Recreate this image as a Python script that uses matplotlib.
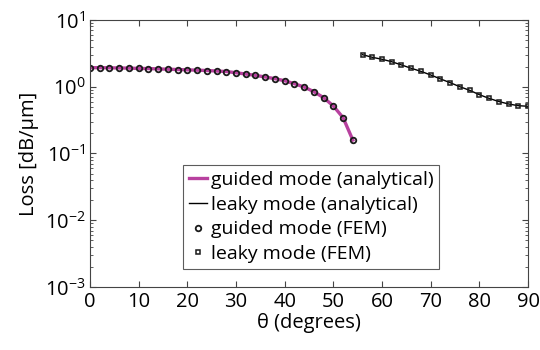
import numpy as np
import matplotlib.pyplot as plt

plt.rcParams['font.family'] = ['Open Sans', 'DejaVu Sans']
plt.rcParams['mathtext.fontset'] = 'custom'
plt.rcParams['mathtext.rm'] = 'Open Sans'
plt.rcParams['mathtext.it'] = 'Open Sans:italic'

# guided mode, every 2 degrees from 0 to 54
theta_g = np.arange(0, 55, 2)
loss_g = [1.93, 1.93, 1.92, 1.91, 1.90, 1.88, 1.87, 1.85, 1.83, 1.81,
          1.79, 1.77, 1.75, 1.72, 1.69, 1.62, 1.55, 1.48, 1.40, 1.32,
          1.23, 1.11, 0.99, 0.843, 0.686, 0.515, 0.344, 0.159]

# leaky mode, every 2 degrees from 56 to 90
theta_l = np.arange(56, 91, 2)
loss_l = [3.02, 2.76, 2.58, 2.37, 2.12, 1.89, 1.70, 1.50, 1.31, 1.15,
          1.00, 0.885, 0.76, 0.67, 0.60, 0.552, 0.52, 0.51]

fig = plt.figure(figsize=(5.4, 3.5), dpi=100)
ax = fig.add_axes([0.1667, 0.18, 0.8111, 0.7629])

ax.plot(theta_g, loss_g, color='#b8419f', lw=2.4, label='guided mode (analytical)')
ax.plot(theta_l, loss_l, color='black', lw=1.0, label='leaky mode (analytical)')
ax.plot(theta_g, loss_g, ls='none', marker='o', ms=4, mfc='none', mec='#1a1a1a',
        mew=1.3, label='guided mode (FEM)')
ax.plot(theta_l, loss_l, ls='none', marker='s', ms=3.5, mfc='none', mec='#1a1a1a',
        mew=1.1, label='leaky mode (FEM)')

ax.set_yscale('log')
ax.set_xlim(0, 90)
ax.set_ylim(1e-3, 1e1)
ax.set_xticks(range(0, 91, 10))
ax.tick_params(which='both', direction='in', top=True, right=True, colors='#444444',
               labelcolor='black', labelsize=14.5)
ax.tick_params(which='major', length=4)
ax.tick_params(which='minor', length=2)
for s in ax.spines.values():
    s.set_color('#444444')
    s.set_linewidth(0.8)

ax.set_xlabel('θ (degrees)', fontsize=14.5, labelpad=1)
ax.set_ylabel('Loss [dB/μm]', fontsize=14.5, labelpad=4)

leg = ax.legend(loc='lower center', bbox_to_anchor=(0.505, 0.067), fontsize=14,
                frameon=True, fancybox=False, edgecolor='#333333', handlelength=0.9,
                handletextpad=0.2, borderpad=0.3, labelspacing=0.35, borderaxespad=0)
leg.get_frame().set_linewidth(0.8)

fig.savefig('out.png', dpi=100)
